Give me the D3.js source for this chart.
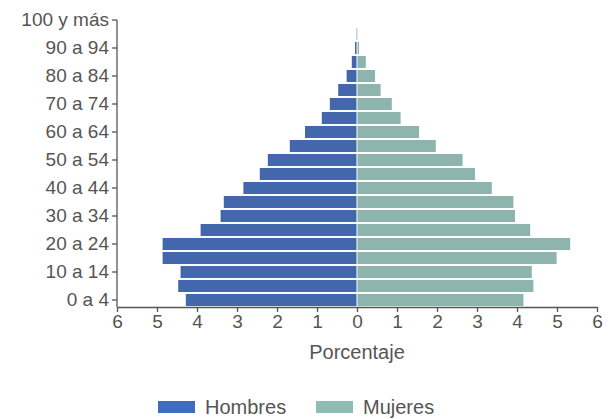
<!DOCTYPE html>
<html>
<head>
<meta charset="utf-8">
<script src="https://cdn.jsdelivr.net/npm/d3@7"></script>
<style>
  html, body { margin: 0; padding: 0; background: #ffffff; }
  svg { display: block; }
  text { font-family: "Liberation Sans", Arial, sans-serif; fill: #555; }
</style>
</head>
<body>
<svg id="chart" width="616" height="419"></svg>
<script>
// ---- data ----
const ageGroups = ["0 a 4","5 a 9","10 a 14","15 a 19","20 a 24","25 a 29","30 a 34","35 a 39",
  "40 a 44","45 a 49","50 a 54","55 a 59","60 a 64","65 a 69","70 a 74","75 a 79",
  "80 a 84","85 a 89","90 a 94","95 a 99","100 y más"];
const hombres = [4.28, 4.47, 4.41, 4.86, 4.86, 3.91, 3.41, 3.33, 2.84, 2.43, 2.23,
  1.68, 1.30, 0.88, 0.68, 0.47, 0.26, 0.13, 0.05, 0.02, 0.005];
const mujeres = [4.16, 4.41, 4.37, 4.99, 5.33, 4.33, 3.95, 3.91, 3.37, 2.95, 2.64,
  1.97, 1.55, 1.09, 0.87, 0.59, 0.45, 0.22, 0.05, 0.02, 0.005];
const xTicks = [-6,-5,-4,-3,-2,-1,0,1,2,3,4,5,6];
const seriesNames = ["Hombres", "Mujeres"];
const seriesColors = ["#4267ad", "#8db5ad"];
const legendColors = ["#3f6cbf", "#8fbcb4"];

// ---- chart ----
const svg = d3.select("#chart");
const x = d3.scaleLinear().domain([-6, 6]).range([117, 597]);
const y = d3.scaleBand().domain(ageGroups).range([307, 13]).paddingInner(0.14).paddingOuter(0.07);

// bars
const g = svg.append("g");
g.selectAll("rect.h").data(ageGroups).join("rect")
  .attr("class", "h")
  .attr("x", (d, i) => x(-hombres[i]))
  .attr("y", d => y(d))
  .attr("width", (d, i) => x(0) - x(-hombres[i]) - 0.5)
  .attr("height", y.bandwidth())
  .attr("fill", seriesColors[0]);
g.selectAll("rect.m").data(ageGroups).join("rect")
  .attr("class", "m")
  .attr("x", x(0) + 0.5)
  .attr("y", d => y(d))
  .attr("width", (d, i) => x(mujeres[i]) - x(0) - 0.5)
  .attr("height", y.bandwidth())
  .attr("fill", seriesColors[1]);

// x axis
const xAxis = svg.append("g")
  .attr("transform", `translate(0,${y.range()[0]})`)
  .call(d3.axisBottom(x).tickValues(xTicks).tickFormat(d => Math.abs(d)).tickSize(5).tickSizeOuter(0).tickPadding(3));
xAxis.selectAll("text").style("font-size", "19px").attr("fill", "#555");
xAxis.selectAll("line, path").attr("stroke", "#555").attr("stroke-width", 1.3);

// y axis
const yAxis = svg.append("g")
  .attr("transform", `translate(${x.range()[0]},0)`)
  .call(d3.axisLeft(y).tickValues(ageGroups.filter((d, i) => i % 2 === 0)).tickSize(5).tickSizeOuter(0).tickPadding(3));
yAxis.select("path.domain").remove();
yAxis.append("line")
  .attr("x1", 0).attr("x2", 0)
  .attr("y1", y(ageGroups[ageGroups.length - 1]) + y.bandwidth() / 2)
  .attr("y2", y.range()[0])
  .attr("stroke", "#555").attr("stroke-width", 1.3);
yAxis.selectAll("text").style("font-size", "19px").attr("fill", "#555");
yAxis.selectAll(".tick line").attr("stroke", "#555").attr("stroke-width", 1.3);

// axis title
svg.append("text")
  .attr("x", x(0)).attr("y", 359)
  .attr("text-anchor", "middle")
  .style("font-size", "20px")
  .text("Porcentaje");

// legend
const legendX = [158, 316];
const lg = svg.append("g");
seriesNames.forEach((name, i) => {
  lg.append("rect")
    .attr("x", legendX[i]).attr("y", 401)
    .attr("width", 37).attr("height", 12)
    .attr("fill", legendColors[i]);
  lg.append("text")
    .attr("x", legendX[i] + 47).attr("y", 414)
    .style("font-size", "20px")
    .text(name);
});
</script>
</body>
</html>
